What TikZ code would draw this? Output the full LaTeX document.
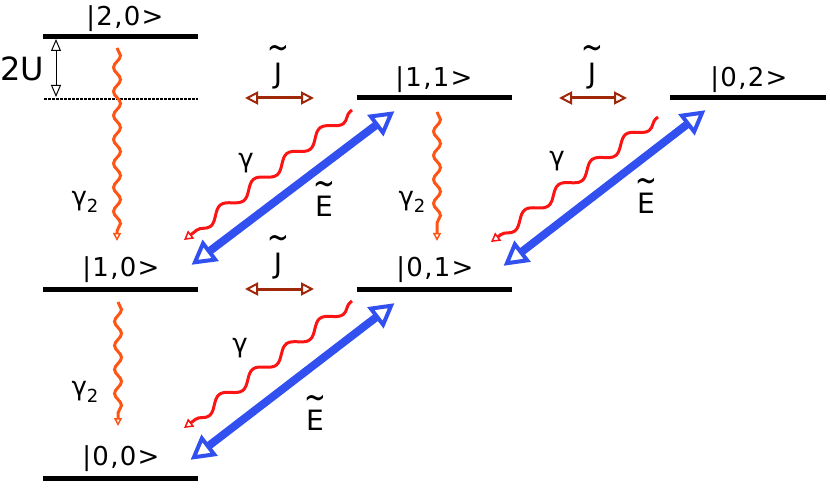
\documentclass[tikz,border=0pt]{standalone}
\usepackage{fontspec}
\setmainfont{DejaVu Sans}
\newfontfamily\labfont[LetterSpace=5]{DejaVu Sans}
\usetikzlibrary{arrows.meta,decorations.pathmorphing}
\definecolor{lvl}{RGB}{0,0,0}
\definecolor{gtwo}{RGB}{255,85,20}
\definecolor{gone}{RGB}{250,20,20}
\definecolor{efield}{RGB}{50,80,240}
\definecolor{jhop}{RGB}{160,40,10}
% tilde raised over a letter; #1 = raise, #2 = letter
\newcommand{\tildeover}[2]{\setbox0\hbox{#2}\makebox[\wd0]{\raisebox{#1}[0pt][0pt]{\fontsize{20}{20}\selectfont\scalebox{1.3}[1.8]{\textasciitilde}}}\llap{\box0}}
\begin{document}
\begin{tikzpicture}[x=1pt,y=-1pt,
  level/.style={line width=5pt,lvl},
  lab/.style={font=\labfont\fontsize{26}{28}\selectfont,inner sep=0pt},
  greek/.style={font=\fontsize{26}{28}\selectfont,inner sep=0pt},
  acc/.style={font=\fontsize{28}{30}\selectfont,inner sep=0pt},
  decay2/.style={gtwo,line width=3pt,decorate,
    decoration={snake,amplitude=3.5pt,segment length=24pt,post length=7pt},
    -{Triangle[open,length=8pt,width=8pt,line width=1.5pt]}},
  decay1/.style={gone,line width=3pt,decorate,
    decoration={snake,amplitude=5.5pt,segment length=42pt,post length=8pt,pre length=2pt},
    -{Triangle[open,length=9pt,width=10pt,line width=1.5pt]}},
  drive/.style={efield,line width=8pt,
    {Triangle[open,length=24pt,width=26pt,line width=4pt]}-{Triangle[open,length=24pt,width=26pt,line width=4pt]},shorten <=2pt,shorten >=2pt},
  hop/.style={jhop,line width=3pt,
    {Triangle[open,length=13pt,width=13pt,line width=2pt]}-{Triangle[open,length=13pt,width=13pt,line width=2pt]}},
  gap/.style={black,line width=1pt,
    {Triangle[open,length=12pt,width=10pt,line width=1pt]}-{Triangle[open,length=12pt,width=10pt,line width=1pt]}}
]
\useasboundingbox (0,0) rectangle (830,489);
% levels
\coordinate (l20a) at (43,37);  \coordinate (l20b) at (198,37);
\coordinate (dsa) at (44,99);   \coordinate (dsb) at (198,99);
\coordinate (l11a) at (357,98); \coordinate (l11b) at (512,98);
\coordinate (l02a) at (670,98); \coordinate (l02b) at (826,98);
\coordinate (l10a) at (43,289); \coordinate (l10b) at (198,289);
\coordinate (l01a) at (357,289);\coordinate (l01b) at (512,289);
\coordinate (l00a) at (43,478); \coordinate (l00b) at (198,478);
\draw[level] (l20a) -- (l20b);
\draw[black,line width=1.5pt,dash pattern=on 3pt off 1pt] (dsa) -- (dsb);
\draw[level] (l11a) -- (l11b);
\draw[level] (l02a) -- (l02b);
\draw[level] (l10a) -- (l10b);
\draw[level] (l01a) -- (l01b);
\draw[level] (l00a) -- (l00b);
% state labels
\node[lab] (s20) at (125,19) {|2,0>};
\node[lab] (s11) at (434,80) {|1,1>};
\node[lab] (s02) at (749,80) {|0,2>};
\node[lab] (s10) at (121,270) {|1,0>};
\node[lab] (s01) at (435,270) {|0,1>};
\node[lab] (s00) at (121,459) {|0,0>};
% 2U
\coordinate (ua) at (56,39); \coordinate (ub) at (56,97);
\draw[gap] (ua) -- (ub);
\node[font=\fontsize{32}{34}\selectfont,inner sep=0pt] (u2) at (22,69) {2U};
% gamma2 decays
\coordinate (d1a) at (117,48);  \coordinate (d1b) at (117,241);
\coordinate (d2a) at (437,112); \coordinate (d2b) at (437,241);
\coordinate (d3a) at (118,302); \coordinate (d3b) at (118,426);
\draw[decay2] (d1a) -- (d1b);
\draw[decay2] (d2a) -- (d2b);
\draw[decay2] (d3a) -- (d3b);
\node[greek] (g2a) at (85,202) {γ\raisebox{-0.5ex}{\fontsize{18}{18}\selectfont 2}};
\node[greek] (g2b) at (412,202) {γ\raisebox{-0.5ex}{\fontsize{18}{18}\selectfont 2}};
\node[greek] (g2c) at (85,392) {γ\raisebox{-0.5ex}{\fontsize{18}{18}\selectfont 2}};
% gamma decays
\coordinate (r1a) at (352,110); \coordinate (r1b) at (184,240);
\coordinate (r2a) at (658,117); \coordinate (r2b) at (491,242);
\coordinate (r3a) at (352,301); \coordinate (r3b) at (184,428);
\draw[decay1] (r1a) -- (r1b);
\draw[decay1] (r2a) -- (r2b);
\draw[decay1] (r3a) -- (r3b);
\node[greek] (ga) at (246,163) {γ};
\node[greek] (gb) at (557,161) {γ};
\node[greek] (gc) at (240,348) {γ};
% drive arrows
\coordinate (e1a) at (190,266); \coordinate (e1b) at (396,110);
\coordinate (e2a) at (502,267); \coordinate (e2b) at (707,109);
\coordinate (e3a) at (189,461); \coordinate (e3b) at (396,302);
\draw[drive] (e1a) -- (e1b);
\draw[drive] (e2a) -- (e2b);
\draw[drive] (e3a) -- (e3b);
\node[acc] (ea) at (324,206) {\tildeover{21pt}{E}};
\node[acc] (eb) at (646,203) {\tildeover{21pt}{E}};
\node[acc] (ec) at (315,420) {\tildeover{21pt}{E}};
% tunnelling
\coordinate (j1a) at (245,98);  \coordinate (j1b) at (314,98);
\coordinate (j2a) at (559,98);  \coordinate (j2b) at (627,98);
\coordinate (j3a) at (245,289); \coordinate (j3b) at (314,289);
\draw[hop] (j1a) -- (j1b);
\draw[hop] (j2a) -- (j2b);
\draw[hop] (j3a) -- (j3b);
\node[acc] (ja) at (278,76) {\tildeover{24pt}{J}};
\node[acc] (jb) at (592,76) {\tildeover{24pt}{J}};
\node[acc] (jc) at (278,266) {\tildeover{24pt}{J}};
\end{tikzpicture}
\end{document}
